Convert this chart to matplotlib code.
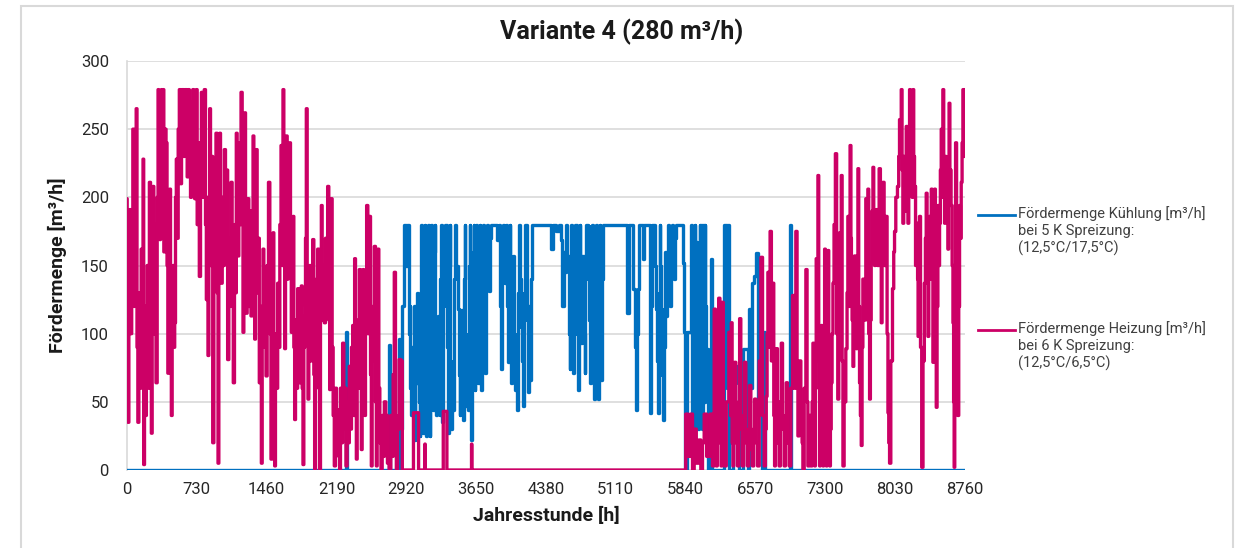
import numpy as np
import matplotlib.pyplot as plt
from matplotlib.lines import Line2D
from matplotlib.patches import Rectangle

plt.rcParams['font.family'] = ['Roboto', 'DejaVu Sans']

# (Jahresstunde [h], Fördermenge [m³/h])
heat_winter = [
    (0, 199), (4, 120), (14, 35), (25, 150), (32, 191), (42, 100), (56, 170), (66, 250), (77, 120), (91, 230),
    (101, 265), (108, 90), (119, 35), (129, 130), (143, 60), (153, 162), (164, 80), (171, 228), (178, 4), (188, 120),
    (199, 40), (206, 89), (216, 150), (227, 60), (241, 211), (251, 100), (258, 27), (268, 130), (275, 208), (286, 100),
    (296, 180), (310, 64), (321, 200), (328, 279), (338, 180), (345, 169), (356, 240), (363, 279), (373, 200), (380, 279),
    (390, 160), (401, 250), (415, 240), (422, 150), (432, 71), (443, 180), (450, 206), (460, 110), (467, 40), (477, 130),
    (484, 150), (495, 90), (502, 108), (512, 200), (519, 228), (530, 170), (540, 250), (554, 279), (565, 210), (575, 279),
    (589, 279), (599, 230), (610, 279), (624, 279), (634, 215), (645, 279), (659, 250), (669, 200), (680, 270), (694, 279),
    (704, 220), (711, 199), (721, 260), (728, 279), (739, 180), (749, 240), (763, 142), (774, 230), (781, 277), (791, 200),
    (801, 265), (815, 279), (826, 180), (833, 125), (843, 200), (850, 84), (861, 180), (868, 265), (878, 150), (889, 230),
    (903, 20), (913, 150), (923, 200), (937, 247), (948, 130), (955, 5), (965, 160), (972, 247), (983, 180), (990, 137),
    (1000, 200), (1011, 150), (1024, 235), (1035, 160), (1045, 220), (1059, 81), (1070, 170), (1080, 120), (1094, 211), (1104, 140),
    (1118, 64), (1129, 180), (1139, 130), (1146, 247), (1157, 190), (1164, 157), (1174, 240), (1185, 180), (1199, 277), (1209, 190),
    (1216, 101), (1227, 200), (1234, 262), (1244, 170), (1251, 115), (1261, 180), (1268, 199), (1279, 120), (1289, 190), (1303, 113),
    (1314, 170), (1321, 245), (1331, 150), (1338, 96), (1348, 180), (1355, 235), (1366, 130), (1376, 170), (1390, 64), (1401, 120),
    (1408, 5), (1418, 110), (1425, 162), (1436, 90), (1446, 140), (1460, 69), (1470, 150), (1488, 211), (1498, 100), (1512, 8),
    (1523, 120), (1530, 174), (1540, 60), (1547, 3), (1557, 100), (1568, 60), (1582, 137), (1592, 90), (1603, 180), (1617, 238),
    (1627, 150), (1634, 279), (1645, 170), (1652, 89), (1662, 200), (1669, 245), (1680, 140), (1690, 220), (1704, 240), (1714, 160),
    (1721, 101), (1732, 170), (1739, 186), (1749, 90), (1756, 37), (1767, 110), (1777, 60), (1791, 133), (1801, 90), (1808, 64),
    (1819, 120), (1826, 135), (1836, 60), (1843, 4), (1854, 90), (1861, 113), (1871, 170), (1878, 265), (1889, 120), (1895, 52),
    (1906, 120), (1913, 150), (1923, 80), (1934, 140), (1948, 169), (1958, 70), (1965, 0), (1976, 90), (1986, 140), (2000, 162),
    (2010, 60), (2017, 0), (2028, 120), (2035, 194), (2045, 110), (2056, 150), (2070, 108), (2080, 170), (2091, 120), (2104, 208),
    (2115, 110), (2122, 59), (2132, 140), (2139, 199), (2150, 90), (2160, 40), (2174, 3), (2185, 60), (2195, 20), (2209, 44),
    (2219, 10), (2226, 0), (2237, 60), (2247, 20), (2261, 93), (2272, 30), (2282, 60), (2296, 3), (2306, 50), (2317, 20),
    (2331, 76), (2341, 30), (2352, 90), (2366, 106), (2376, 40), (2383, 155), (2394, 50), (2401, 8), (2411, 60), (2422, 110),
    (2435, 147), (2446, 60), (2453, 15), (2463, 80), (2470, 147), (2481, 70), (2488, 40), (2498, 120), (2512, 194), (2523, 100),
    (2533, 170), (2540, 186), (2551, 70), (2557, 3), (2568, 80), (2578, 120), (2592, 164), (2603, 50), (2610, 3), (2620, 90),
    (2627, 162), (2638, 60), (2648, 20), (2662, 0), (2673, 40), (2683, 10), (2697, 50), (2714, 40), (2731, 5), (2749, 0),
    (2766, 40), (2777, 10), (2787, 70), (2801, 145), (2812, 40), (2819, 0), (2836, 30), (2854, 81), (2871, 80), (2885, 0)]

heat_summer = [
    (2993, 0), (2996, 42), (3046, 42), (3050, 0), (3112, 0), (3115, 19), (3120, 0), (3305, 0), (3307, 43), (3342, 43),
    (3346, 0), (3600, 0), (3603, 19), (3607, 0), (5830, 0)]

heat_autumn = [
    (5851, 41), (5877, 10), (5903, 41), (5920, 0), (5938, 30), (5964, 5), (5990, 22), (6007, 0), (6025, 20), (6042, 41),
    (6077, 10), (6112, 41), (6129, 3), (6147, 118), (6155, 30), (6164, 3), (6178, 60), (6192, 126), (6204, 20), (6216, 3),
    (6227, 123), (6240, 40), (6251, 3), (6278, 50), (6304, 101), (6313, 40), (6321, 108), (6330, 20), (6338, 3), (6347, 40),
    (6356, 79), (6373, 20), (6391, 3), (6400, 50), (6408, 111), (6425, 30), (6443, 3), (6451, 40), (6460, 79), (6478, 20),
    (6495, 3), (6504, 30), (6513, 62), (6530, 15), (6547, 3), (6556, 30), (6565, 52), (6583, 20), (6600, 3), (6618, 80),
    (6635, 156), (6652, 40), (6669, 3), (6678, 30), (6687, 54), (6695, 100), (6704, 145), (6716, 90), (6729, 175), (6743, 80),
    (6757, 137), (6765, 40), (6774, 3), (6782, 50), (6791, 89), (6808, 20), (6826, 3), (6835, 50), (6844, 93), (6861, 30),
    (6879, 3), (6887, 40), (6896, 64), (6913, 20), (6931, 3), (6948, 60), (6966, 128), (6983, 60), (7000, 175), (7009, 60),
    (7018, 25), (7035, 80), (7053, 49), (7061, 20), (7070, 0), (7088, 60), (7105, 147), (7113, 50), (7122, 3), (7140, 40),
    (7157, 3), (7166, 50), (7175, 93), (7183, 30), (7192, 3), (7200, 80), (7209, 155), (7218, 120), (7227, 216), (7235, 60),
    (7244, 3), (7253, 50), (7262, 106), (7270, 40), (7279, 3), (7288, 90), (7297, 162), (7305, 50), (7314, 3), (7322, 80),
    (7331, 161), (7340, 60), (7349, 3), (7357, 30), (7366, 64), (7375, 100), (7384, 137), (7398, 180), (7412, 232), (7424, 100),
    (7436, 52), (7445, 110), (7453, 174), (7462, 120), (7471, 216), (7480, 80), (7488, 3), (7505, 50), (7523, 89), (7531, 130),
    (7540, 186), (7552, 120), (7565, 238), (7570, 170), (7575, 157), (7584, 110), (7593, 76), (7601, 120), (7610, 157), (7619, 110),
    (7628, 89), (7636, 150), (7645, 221), (7653, 120), (7662, 64), (7671, 40), (7680, 18), (7688, 90), (7697, 140), (7714, 110),
    (7732, 199), (7740, 150), (7749, 206), (7758, 100), (7767, 52), (7775, 110), (7784, 152), (7793, 190), (7802, 222), (7810, 170),
    (7819, 150), (7828, 170), (7837, 191), (7854, 150), (7871, 221), (7880, 160), (7889, 108), (7897, 160), (7906, 211), (7923, 150),
    (7941, 186), (7950, 100), (7959, 42), (7967, 20), (7976, 5), (7993, 80), (8011, 133), (8019, 160), (8028, 175), (8045, 200),
    (8063, 208), (8071, 230), (8080, 257), (8089, 230), (8098, 279), (8106, 220), (8115, 181), (8124, 230), (8133, 228), (8141, 190),
    (8150, 252), (8159, 210), (8168, 181), (8176, 240), (8185, 279), (8193, 220), (8202, 235), (8211, 200), (8220, 279), (8228, 230),
    (8237, 208), (8249, 150), (8262, 181), (8267, 140), (8272, 98), (8280, 140), (8289, 186), (8301, 90), (8314, 2), (8328, 80),
    (8342, 137), (8350, 170), (8359, 203), (8368, 150), (8377, 98), (8385, 150), (8394, 186), (8403, 140), (8412, 206), (8420, 150),
    (8429, 79), (8437, 150), (8446, 206), (8455, 120), (8464, 46), (8472, 120), (8481, 194), (8490, 150), (8498, 181), (8507, 220),
    (8516, 250), (8524, 200), (8533, 279), (8542, 220), (8551, 181), (8559, 230), (8568, 191), (8577, 220), (8586, 162), (8591, 200),
    (8596, 269), (8608, 220), (8621, 194), (8630, 150), (8638, 108), (8644, 50), (8649, 2), (8657, 120), (8666, 240), (8678, 130),
    (8690, 40), (8699, 120), (8707, 194), (8716, 170), (8725, 211), (8734, 240), (8742, 279), (8751, 230), (8760, 279)]

cool_spring = [
    (0, 0), (2280, 0), (2296, 101), (2313, 0), (2730, 0), (2742, 92), (2755, 0), (2840, 0)]

cool_summer = [
    (2854, 96), (2862, 60), (2871, 30), (2888, 120), (2906, 180), (2923, 150), (2941, 180), (2950, 100), (2959, 120), (2967, 60),
    (2976, 40), (2984, 90), (2993, 69), (3002, 120), (3011, 22), (3019, 80), (3028, 64), (3037, 130), (3046, 101), (3054, 50),
    (3063, 25), (3071, 120), (3080, 180), (3089, 90), (3098, 27), (3106, 140), (3115, 180), (3124, 70), (3133, 25), (3141, 150),
    (3150, 180), (3159, 60), (3168, 25), (3176, 130), (3185, 180), (3193, 100), (3202, 44), (3211, 160), (3220, 180), (3228, 80),
    (3237, 40), (3246, 90), (3255, 113), (3263, 60), (3272, 40), (3281, 140), (3290, 180), (3295, 90), (3300, 35), (3312, 120),
    (3324, 167), (3333, 180), (3342, 180), (3350, 90), (3359, 27), (3368, 150), (3377, 180), (3385, 80), (3394, 30), (3402, 70),
    (3411, 44), (3420, 140), (3429, 180), (3446, 150), (3464, 118), (3472, 70), (3481, 40), (3490, 90), (3499, 117), (3507, 60),
    (3516, 37), (3524, 140), (3533, 180), (3542, 100), (3551, 47), (3559, 90), (3568, 44), (3577, 150), (3586, 180), (3594, 90),
    (3603, 22), (3608, 80), (3614, 126), (3620, 160), (3627, 180), (3632, 100), (3638, 59), (3646, 140), (3655, 180), (3664, 120),
    (3673, 64), (3681, 140), (3690, 180), (3699, 110), (3708, 59), (3716, 140), (3725, 180), (3739, 120), (3753, 71), (3760, 140),
    (3767, 180), (3778, 150), (3788, 131), (3800, 170), (3812, 180), (3864, 180), (3882, 169), (3899, 180), (3908, 120), (3917, 74),
    (3925, 140), (3934, 180), (3943, 150), (3952, 137), (3960, 170), (3969, 180), (3977, 120), (3986, 79), (3995, 140), (4004, 180),
    (4012, 110), (4021, 64), (4030, 130), (4039, 157), (4047, 100), (4056, 59), (4068, 80), (4080, 44), (4090, 130), (4101, 180),
    (4113, 140), (4126, 105), (4138, 80), (4150, 47), (4160, 130), (4171, 180), (4183, 110), (4195, 57), (4207, 120), (4220, 66),
    (4230, 140), (4241, 180), (4422, 180), (4439, 162), (4457, 180), (4509, 175), (4526, 180), (4544, 169), (4560, 120), (4570, 160),
    (4579, 145), (4596, 180), (4613, 157), (4622, 100), (4631, 74), (4640, 140), (4648, 180), (4657, 110), (4666, 71), (4680, 140),
    (4694, 180), (4705, 100), (4718, 59), (4726, 130), (4735, 180), (4744, 120), (4753, 93), (4770, 157), (4780, 100), (4788, 71),
    (4796, 140), (4805, 180), (4823, 179), (4832, 110), (4840, 64), (4855, 130), (4868, 180), (4880, 100), (4892, 52), (4901, 130),
    (4910, 180), (4918, 100), (4927, 52), (4935, 130), (4944, 180), (4953, 110), (4962, 66), (4975, 140), (4986, 180), (5223, 180),
    (5234, 115), (5251, 180), (5286, 180), (5300, 133), (5314, 90), (5328, 44), (5337, 100), (5345, 133), (5363, 180), (5390, 180),
    (5397, 155), (5415, 180), (5467, 180), (5477, 42), (5486, 120), (5495, 180), (5519, 180), (5528, 150), (5537, 118), (5545, 80),
    (5554, 42), (5563, 130), (5572, 180), (5580, 150), (5589, 118), (5598, 70), (5607, 37), (5615, 90), (5624, 125), (5632, 160),
    (5641, 113), (5650, 150), (5659, 180), (5670, 150), (5683, 120), (5694, 160), (5704, 180), (5716, 160), (5728, 140), (5737, 170),
    (5746, 180), (5763, 180)]

cool_autumn = [
    (5781, 180), (5809, 180), (5816, 152), (5833, 101), (5840, 0), (5868, 101), (5886, 101), (5903, 180), (5912, 40), (5920, 177),
    (5929, 30), (5938, 180), (5946, 60), (5955, 167), (5964, 90), (5973, 30), (5981, 120), (5990, 180), (5999, 40), (6008, 180),
    (6016, 30), (6025, 180), (6033, 50), (6042, 180), (6051, 120), (6060, 89), (6077, 0), (6102, 0), (6112, 155), (6122, 0),
    (6234, 0), (6244, 180), (6265, 180), (6275, 60), (6286, 180), (6304, 0), (6373, 76), (6391, 64), (6408, 0), (6478, 89),
    (6495, 0), (6513, 118), (6530, 60), (6547, 137), (6565, 142), (6589, 159), (6603, 40), (6617, 64), (6652, 0), (6669, 101),
    (6680, 0), (6924, 0), (6931, 180), (6941, 0), (8760, 0)]

heat_h, heat_v = zip(*(heat_winter + heat_summer + heat_autumn))
cool_h, cool_v = zip(*(cool_spring + cool_summer + cool_autumn))

x_ticks = np.arange(0, 8761, 730)
blue = '#0070C0'
pink = '#CC0066'

fig = plt.figure(figsize=(12.35, 5.48), dpi=100)
ax = fig.add_axes([127 / 1235, 1 - 470 / 548, 838 / 1235, 409 / 548])

ax.plot(cool_h, cool_v, color=blue, lw=2.4, drawstyle='steps-mid', zorder=3)
ax.plot(heat_h, heat_v, color=pink, lw=2.4, drawstyle='steps-mid', zorder=4)

ax.set_xlim(0, 8760)
ax.set_ylim(0, 300)
ax.set_xticks(x_ticks)
ax.set_yticks(np.arange(0, 301, 50))
ax.tick_params(length=0, labelsize=12, labelcolor='#262626')
ax.tick_params(axis='x', pad=9)
ax.tick_params(axis='y', pad=13)
ax.grid(axis='y', color='#d9d9d9', lw=1.2)
ax.set_axisbelow(True)
for s in ['top', 'right', 'bottom']:
    ax.spines[s].set_visible(False)
ax.spines['left'].set_color('#d9d9d9')
ax.spines['left'].set_linewidth(1.2)

ax.set_xlabel('Jahresstunde [h]', fontsize=14, fontweight='bold', color='#1a1a1a', labelpad=7)
ax.set_ylabel('Fördermenge [m³/h]', fontsize=14, fontweight='bold', color='#1a1a1a', labelpad=10)

fig.text(0.503, 1 - 32 / 548, 'Variante 4 (280 m³/h)', ha='center', va='center',
         fontsize=18, fontweight='bold', color='#1a1a1a')

# Legende rechts
leg = [(blue, 215, 'Fördermenge Kühlung [m³/h]\nbei 5 K Spreizung:\n(12,5°C/17,5°C)'),
       (pink, 330, 'Fördermenge Heizung [m³/h]\nbei 6 K Spreizung:\n(12,5°C/6,5°C)')]
for c, yp, txt in leg:
    y = 1 - yp / 548
    fig.add_artist(Line2D([978 / 1235, 1015 / 1235], [y, y], color=c, lw=2))
    fig.text(1018 / 1235, y + 9 / 548, txt, ha='left', va='top', fontsize=10.5,
             color='#404040', linespacing=1.25)

fig.add_artist(Rectangle((21 / 1235, -0.05), (1233 - 21) / 1235, 1.05 - 6 / 548,
                         transform=fig.transFigure, fill=False, ec='#d9d9d9', lw=1.5))

fig.savefig('out.png', dpi=100)
